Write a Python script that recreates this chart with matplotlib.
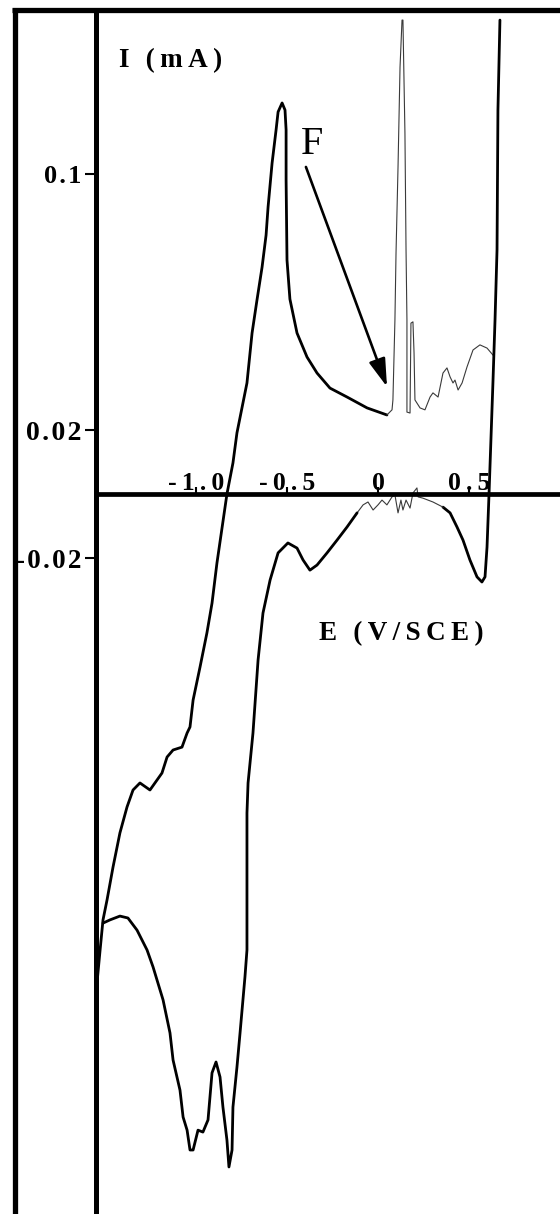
import matplotlib
matplotlib.use('Agg')
import matplotlib.pyplot as plt
from matplotlib.lines import Line2D

# ---------------- data (E in V/SCE, I in mA) ----------------
# forward (anodic) sweep, thick trace
anodic_E = [-1.544, -1.527, -1.511, -1.489, -1.456, -1.418, -1.379, -1.346, -1.308, -1.253,
            -1.187, -1.159, -1.126, -1.077, -1.049, -1.033, -1.016, -0.978, -0.940, -0.912,
            -0.885, -0.830, -0.797, -0.775, -0.720, -0.692, -0.665, -0.637, -0.615, -0.604,
            -0.582, -0.560, -0.549, -0.527, -0.511, -0.505, -0.505, -0.500, -0.484, -0.445,
            -0.390, -0.335, -0.264, -0.170, -0.060, 0.049]
anodic_I = [-0.1528, -0.1425, -0.1331, -0.1269, -0.1166, -0.1059, -0.0978, -0.0925, -0.0903, -0.0925,
            -0.0872, -0.0822, -0.0800, -0.0791, -0.0747, -0.0728, -0.0644, -0.0541, -0.0434, -0.0341,
            -0.0216, 0.0, 0.0097, 0.0191, 0.0347, 0.0503, 0.0606, 0.0709, 0.0809, 0.0897,
            0.1034, 0.1138, 0.1194, 0.1222, 0.1200, 0.1138, 0.0981, 0.0731, 0.0609, 0.0503,
            0.0428, 0.0378, 0.0331, 0.0303, 0.0269, 0.0247]

# pitting transients (thin trace)
pit_E = [0.049, 0.077, 0.082, 0.093, 0.099, 0.110, 0.121, 0.132, 0.137, 0.148,
         0.154, 0.159, 0.159, 0.176, 0.181, 0.192, 0.198, 0.203, 0.231, 0.258,
         0.286, 0.302, 0.330, 0.357, 0.379, 0.396, 0.412, 0.423, 0.440, 0.462,
         0.489, 0.522, 0.560, 0.599, 0.632]
pit_I = [0.0247, 0.0263, 0.0294, 0.0544, 0.0753, 0.1022, 0.1334, 0.1481, 0.1481, 0.1128,
         0.0763, 0.0544, 0.0256, 0.0253, 0.0534, 0.0538, 0.0441, 0.0294, 0.0269, 0.0263,
         0.0303, 0.0316, 0.0303, 0.0378, 0.0394, 0.0366, 0.0347, 0.0356, 0.0325, 0.0347,
         0.0397, 0.0450, 0.0466, 0.0456, 0.0434]

# reversal and reverse sweep, thick trace
reverse_E = [0.670, 0.659, 0.654, 0.643, 0.632, 0.610, 0.599, 0.588, 0.571, 0.544,
             0.505, 0.467, 0.434, 0.396, 0.357]
reverse_I = [0.1481, 0.1200, 0.0763, 0.0544, 0.0356, 0.0, -0.0166, -0.0259, -0.0275, -0.0259,
             -0.0206, -0.0144, -0.0103, -0.0059, -0.0041]

# reverse sweep oscillations, thin trace
wiggle_E = [0.357, 0.302, 0.247, 0.220, 0.214, 0.192, 0.176, 0.154, 0.137, 0.126,
            0.110, 0.093, 0.077, 0.049, 0.022, 0.000, -0.027, -0.055, -0.082, -0.115]
wiggle_I = [-0.0041, -0.0025, -0.0013, -0.0009, 0.0019, 0.0003, -0.0044, -0.0019, -0.0050, -0.0019,
            -0.0059, -0.0003, -0.0009, -0.0034, -0.0019, -0.0034, -0.0050, -0.0025, -0.0034, -0.0059]

# cathodic part of reverse sweep, thick trace
cathodic_E = [-0.115, -0.170, -0.225, -0.280, -0.335, -0.374, -0.412, -0.445, -0.495, -0.549,
              -0.593, -0.632, -0.659, -0.687, -0.714, -0.720, -0.720, -0.720, -0.731, -0.758,
              -0.775, -0.797, -0.802, -0.819, -0.830, -0.852, -0.868, -0.890, -0.912, -0.934,
              -0.962, -0.989, -1.016, -1.033, -1.049, -1.071, -1.088, -1.126, -1.143, -1.181,
              -1.236, -1.269, -1.324, -1.374, -1.418, -1.473, -1.511]
cathodic_I = [-0.0059, -0.0103, -0.0144, -0.0184, -0.0222, -0.0238, -0.0206, -0.0169, -0.0153, -0.0184,
              -0.0269, -0.0372, -0.0519, -0.0747, -0.0903, -0.0997, -0.1216, -0.1425, -0.1509, -0.1684,
              -0.1791, -0.1916, -0.2050, -0.2103, -0.2019, -0.1916, -0.1822, -0.1775, -0.1809, -0.1956,
              -0.1994, -0.1988, -0.2050, -0.2050, -0.1988, -0.1947, -0.1863, -0.1769, -0.1684, -0.1581,
              -0.1478, -0.1425, -0.1363, -0.1325, -0.1319, -0.1331, -0.1341]

x_ticks = [-1.0, -0.5, 0.0, 0.5]
x_tick_labels = ['-1.0', '-0.5', '0', '0.5']
y_ticks = [0.1, 0.02, -0.02]
y_tick_labels = ['0.1', '0.02', '-0.02']

# ---------------- figure ----------------
W, H = 560, 1214
fig = plt.figure(figsize=(W / 100, H / 100), dpi=100)
fig.patch.set_facecolor('white')

SERIF = ['Liberation Serif', 'DejaVu Serif']
TS = '\u2009'  # thin space for letter spacing
HS = '\u200a'  # hair space

ax_left, ax_top = 96, 10
ax = fig.add_axes([ax_left / W, 0, (W - ax_left) / W, (H - ax_top) / H])
ax.set_xlim(-1.5495, 1.0)
ax.set_ylim(-0.225, 0.15125)
ax.patch.set_alpha(0)

thick = dict(color='black', lw=2.0, solid_joinstyle='round', solid_capstyle='round')
thin = dict(color='#3a3a3a', lw=0.8, solid_joinstyle='round')
ax.plot(anodic_E, anodic_I, **thick)
ax.plot(pit_E, pit_I, **thin)
ax.plot(reverse_E, reverse_I, **thick)
ax.plot(wiggle_E, wiggle_I, **thin)
ax.plot(cathodic_E, cathodic_I, **thick)

# axes lines
for s in ['right', 'bottom']:
    ax.spines[s].set_visible(False)
ax.spines['left'].set_linewidth(3.6)
ax.spines['top'].set_position(('data', 0))
ax.spines['top'].set_linewidth(3.4)

ax.xaxis.set_ticks_position('top')
ax.set_xticks(x_ticks)
ax.set_xticklabels([TS.join(list(t)) for t in x_tick_labels])
ax.tick_params(axis='x', direction='out', length=5, width=1.5, pad=-5.5,
               labelsize=18.5)
for lbl in ax.get_xticklabels():
    lbl.set_fontfamily(SERIF)
    lbl.set_fontweight('bold')

ax.set_yticks(y_ticks)
ax.set_yticklabels([HS.join(list(t)) for t in y_tick_labels])
ax.tick_params(axis='y', direction='out', length=8, width=1.5, pad=2.5)
for lbl, fs in zip(ax.get_yticklabels(), [19, 20, 19.5]):
    lbl.set_fontfamily(SERIF)
    lbl.set_fontweight('bold')
    lbl.set_fontsize(fs)

# axis titles
fig.text(119 / W, 1 - 61 / H, 'I' + TS * 3 + '(' + TS + 'm' + TS + 'A' + TS + ')',
         fontfamily=SERIF, fontweight='bold', fontsize=19.5, ha='left', va='center')
fig.text(401 / W, 1 - 634 / H, 'E' + TS * 3 + TS.join(list('(V/SCE)')),
         fontfamily=SERIF, fontweight='bold', fontsize=19.5, ha='center', va='center')

# annotation F with arrow
fig.text(312 / W, 1 - 145 / H, 'F', fontfamily=SERIF, fontsize=29, ha='center', va='center')
ax.annotate('', xy=(0.0495, 0.0335), xytext=(-0.396, 0.1022),
            arrowprops=dict(arrowstyle='-|>,head_length=1.0,head_width=0.3',
                            lw=1.9, color='black', mutation_scale=17,
                            shrinkA=0, shrinkB=0))

# outer frame (left and top borders)
fig.add_artist(Line2D([14.5 / W, 14.5 / W], [0, 1 - 7.5 / H], transform=fig.transFigure,
                      color='black', lw=3.8, solid_capstyle='butt'))
fig.add_artist(Line2D([12 / W, 1], [1 - 10 / H, 1 - 10 / H], transform=fig.transFigure,
                      color='black', lw=3.8, solid_capstyle='butt'))

fig.savefig('out.png', dpi=100, facecolor='white')
